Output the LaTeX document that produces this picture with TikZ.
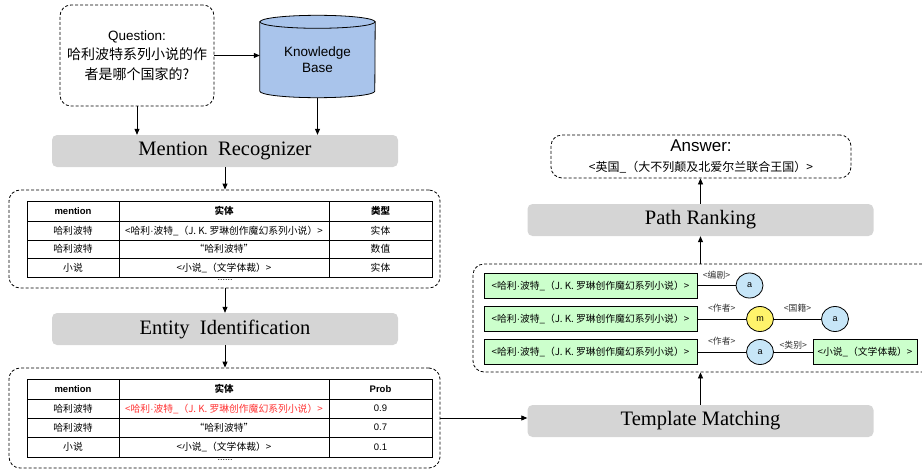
\documentclass[tikz,border=0pt]{standalone}
\usepackage{fontspec}
\setmainfont{Liberation Sans}
\newfontfamily\cjk{Noto Sans CJK SC}
\newfontfamily\tms{Liberation Serif}
\newcommand\mydot{{\rmfamily ·}}
\usetikzlibrary{arrows.meta,shapes.geometric,calc}
\definecolor{kbblue}{HTML}{A9C4EB}
\definecolor{stagegray}{HTML}{D5D5D5}
\definecolor{tgreen}{HTML}{CCFFCC}
\definecolor{cblue}{HTML}{C7E6F8}
\definecolor{cyellow}{HTML}{FFF36B}
\definecolor{redtxt}{HTML}{FF3333}
\definecolor{lbltxt}{HTML}{333333}
\begin{document}
\begin{tikzpicture}[x=1pt,y=-1pt,
  dashbox/.style={draw, dash pattern=on 3pt off 2pt, rounded corners=11pt, line width=0.8pt, inner sep=0pt},
  stage/.style={fill=stagegray, rounded corners=5pt, minimum width=346pt, minimum height=32pt, inner sep=0pt, font=\tms\fontsize{20.5}{22}\selectfont},
  arr/.style={-{Triangle[length=6pt,width=5pt]}, line width=0.8pt},
  cell/.style={font=\cjk\fontsize{9.8}{11}\selectfont, inner sep=0pt},
  hcell/.style={font=\bfseries\fontsize{9.5}{11}\selectfont, inner sep=0pt},
  ncell/.style={font=\fontsize{9.5}{11}\selectfont, inner sep=0pt},
  tline/.style={line width=0.8pt},
  ent/.style={draw, fill=tgreen, line width=0.8pt, minimum height=25pt, inner sep=0pt, font=\cjk\fontsize{9.8}{11}\selectfont},
  var/.style={draw, ellipse, line width=0.8pt, minimum width=27pt, minimum height=25pt, inner sep=0pt, font=\fontsize{9}{10}\selectfont},
  rel/.style={font=\cjk\fontsize{8.8}{9}\selectfont, text=lbltxt, inner sep=0pt},
  link/.style={line width=0.8pt},
  dots/.style={font=\fontsize{9}{9}\selectfont, inner sep=0pt}
]
\useasboundingbox (0,0) rectangle (922,471);

% Question box
\node[dashbox, minimum width=154pt, minimum height=101pt, align=center,
  font=\fontsize{13.5}{19.5}\selectfont] (q) at (137,55.5)
  {Question:\\{\cjk\fontsize{14}{19.5}\selectfont 哈利波特系列小说的作}\\{\cjk\fontsize{14}{19.5}\selectfont 者是哪个国家的?}};

% Knowledge base cylinder
\node[minimum width=115pt, minimum height=82pt, inner sep=0pt] (kb) at (317.5,56.5) {};
\draw[line width=0.8pt, fill=kbblue] ($(kb.north west)+(0,6.5)$)
  -- ($(kb.south west)+(0,-6.5)$)
  arc[start angle=180, end angle=360, x radius=57.5pt, y radius=6.5pt]
  -- ($(kb.north east)+(0,6.5)$) -- cycle;
\draw[line width=0.8pt, fill=kbblue] ($(kb.north)+(0,6.5)$) ellipse[x radius=57.5pt, y radius=6.5pt];
\node[align=center, font=\fontsize{13.5}{16}\selectfont, inner sep=0pt] (kbt) at (317.5,60) {Knowledge\\Base};

% Stages
\node[stage] (mr) at (225,151) {Mention\hspace{0.25em} Recognizer};
\node[stage] (ei) at (225,329) {Entity\hspace{0.25em} Identification};
\node[stage] (tm) at (700.5,421) {Template Matching};
\node[stage] (pr) at (700.5,220) {Path Ranking};

% Table box 1
\node[dashbox, minimum width=431pt, minimum height=98pt] (tb1) at (224.5,239) {};
\draw[tline] (27,201) rectangle (432,277);
\foreach \yy in {221,240,258} \draw[tline] (27,\yy) -- (432,\yy);
\foreach \xx in {119,329} \draw[tline] (\xx,201) -- (\xx,277);
\node[hcell] (a11) at (73,211) {mention};
\node[hcell, font=\cjk\bfseries\fontsize{9.5}{11}\selectfont] (a12) at (224,211) {实体};
\node[hcell, font=\cjk\bfseries\fontsize{9.5}{11}\selectfont] (a13) at (380.5,211) {类型};
\node[cell] (a21) at (73,230.5) {哈利波特};
\node[cell] (a22) at (224,230.5) {<哈利\mydot 波特\_（J. K. 罗琳创作魔幻系列小说）>};
\node[cell] (a23) at (380.5,230.5) {实体};
\node[cell] (a31) at (73,249) {哈利波特};
\node[cell] (a32) at (224,249) {“哈利波特”};
\node[cell] (a33) at (380.5,249) {数值};
\node[cell] (a41) at (73,267.5) {小说};
\node[cell] (a42) at (224,267.5) {<小说\_（文学体裁）>};
\node[cell] (a43) at (380.5,267.5) {实体};
\node[dots] (d1) at (225,280) {......};

% Table box 2
\node[dashbox, minimum width=431pt, minimum height=100pt] (tb2) at (224.5,418) {};
\draw[tline] (27,379) rectangle (432,457);
\foreach \yy in {399,418,437} \draw[tline] (27,\yy) -- (432,\yy);
\foreach \xx in {119,329} \draw[tline] (\xx,379) -- (\xx,457);
\node[hcell] (b11) at (73,389) {mention};
\node[hcell, font=\cjk\bfseries\fontsize{9.5}{11}\selectfont] (b12) at (224,389) {实体};
\node[hcell] (b13) at (380.5,389) {Prob};
\node[cell] (b21) at (73,408.5) {哈利波特};
\node[cell, text=redtxt] (b22) at (224,408.5) {<哈利\mydot 波特\_（J. K. 罗琳创作魔幻系列小说）>};
\node[ncell] (b23) at (380.5,408.5) {0.9};
\node[cell] (b31) at (73,427.5) {哈利波特};
\node[cell] (b32) at (224,427.5) {“哈利波特”};
\node[ncell] (b33) at (380.5,427.5) {0.7};
\node[cell] (b41) at (73,447) {小说};
\node[cell] (b42) at (224,447) {<小说\_（文学体裁）>};
\node[ncell] (b43) at (380.5,447) {0.1};
\node[dots] (d2) at (225,460) {......};

% Template box (right side runs past the page edge)
\node[dashbox, minimum width=460pt, minimum height=108pt] (tp) at (703,318) {};
\node[ent, minimum width=213pt] (r1) at (590.5,285.5) {<哈利\mydot 波特\_（J. K. 罗琳创作魔幻系列小说）>};
\node[ent, minimum width=213pt] (r2) at (590.5,319) {<哈利\mydot 波特\_（J. K. 罗琳创作魔幻系列小说）>};
\node[ent, minimum width=213pt] (r3) at (590.5,352) {<哈利\mydot 波特\_（J. K. 罗琳创作魔幻系列小说）>};
\node[ent, minimum width=104pt] (r4) at (865,352) {<小说\_（文学体裁）>};
\node[var, fill=cblue] (c1) at (749.5,285.5) {a};
\node[var, fill=cyellow] (c2) at (760,319) {m};
\node[var, fill=cblue] (c3) at (835,319) {a};
\node[var, fill=cblue] (c4) at (760,352) {a};
\draw[link] (r1) -- node[rel, yshift=10pt] {<编剧>} (c1);
\draw[link] (r2) -- node[rel, yshift=11pt] {<作者>} (c2);
\draw[link] (c2) -- node[rel, yshift=11pt] {<国籍>} (c3);
\draw[link] (r3) -- node[rel, yshift=11pt] {<作者>} (c4);
\draw[link] (c4) -- node[rel, yshift=6.5pt] {<类别>} (r4);

% Answer
\node[dashbox, minimum width=300pt, minimum height=43pt, align=center,
  font=\fontsize{12}{20}\selectfont] (ans) at (701,156.5)
  {{\fontsize{17}{20}\selectfont Answer:}\\{\cjk\fontsize{12}{20}\selectfont <英国\_（大不列颠及北爱尔兰联合王国）>}};

% Connectors
\draw[arr] (q.east) -- (q.east -| kb.west);
\draw[arr] (q.south) -- (q.south |- mr.north);
\draw[arr] (kb.south) -- (kb.south |- mr.north);
\draw[arr] (mr.south) -- (mr.south |- tb1.north);
\draw[arr] (mr.south |- tb1.south) -- (ei.north);
\draw[arr] (ei.south) -- (ei.south |- tb2.north);
\draw[arr] (tb2.east) -- (tb2.east -| tm.west);
\draw[arr] (tm.north) -- (tm.north |- tp.south);
\draw[arr] (pr.south |- tp.north) -- (pr.south);
\draw[arr] (pr.north) -- (pr.north |- ans.south);
\end{tikzpicture}
\end{document}
